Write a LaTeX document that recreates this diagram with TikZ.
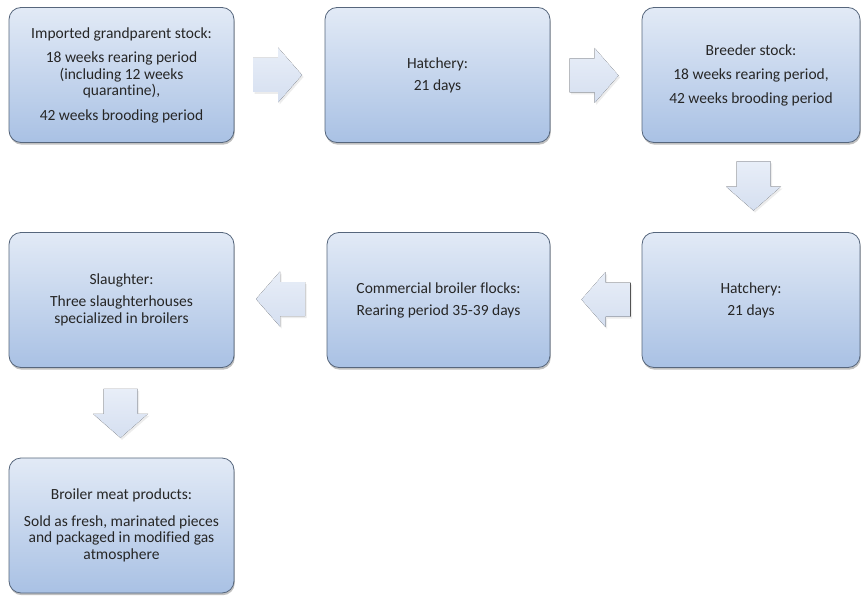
\documentclass[tikz,border=0pt]{standalone}
\usepackage{fontspec}
\setmainfont{Carlito}[Ligatures={NoCommon}]
\usetikzlibrary{shadows,calc}
\definecolor{boxtop}{HTML}{E2EAF6}
\definecolor{boxbot}{HTML}{A9C1E4}
\definecolor{boxline}{HTML}{56667C}
\definecolor{arrtop}{HTML}{E8EEF8}
\definecolor{arrbot}{HTML}{D5DFF0}
\definecolor{txt}{HTML}{262626}
\tikzset{
  stage/.style={draw=boxline, line width=0.8pt, rounded corners=12pt,
    top color=boxtop, bottom color=boxbot, align=center, text=txt,
    font=\fontsize{15.5}{16.5}\selectfont, inner sep=2pt,
    minimum height=135pt,
    drop shadow={shadow xshift=0.8pt, shadow yshift=-2.2pt, opacity=0.35, fill=black!70}},
  blockarrow/.pic={
    \fill[top color=arrtop, bottom color=arrbot,
      drop shadow={shadow xshift=1.5pt, shadow yshift=-2pt, opacity=0.15}]
      (-24.5,-17) -- (0.5,-17) -- (0.5,-27.5) -- (24.5,0) -- (0.5,27.5)
      -- (0.5,17) -- (-24.5,17) -- cycle;
  }
}
\begin{document}
\begin{tikzpicture}[x=1pt,y=-1pt]
\useasboundingbox[fill=white] (0,0) rectangle (861,596);

% stages of the production chain
\node[stage, minimum width=225pt] (gp) at (121.5,75)
  {Imported grandparent stock:\\[8pt]18 weeks rearing period\\(including 12 weeks\\quarantine),\\[8pt]42 weeks brooding period};
\node[stage, minimum width=225pt] (hatch1) at (437.5,75)
  {Hatchery:\\[5.5pt]21 days};
\node[stage, minimum width=218pt] (breeder) at (751,75)
  {Breeder stock:\\[7.5pt]18 weeks rearing period,\\[7.5pt]42 weeks brooding period};
\node[stage, minimum width=218pt] (hatch2) at (751,300)
  {Hatchery:\\[5.5pt]21 days};
\node[stage, minimum width=223pt] (flocks) at (438.5,300)
  {Commercial broiler flocks:\\[5.5pt]Rearing period 35-39 days};
\node[stage, minimum width=225pt] (slaughter) at (121.5,300)
  {Slaughter:\\[5.5pt]Three slaughterhouses\\specialized in broilers};
\node[stage, minimum width=225pt] (products) at (121.5,525.5)
  {Broiler meat products:\\[10pt]Sold as fresh, marinated pieces\\and packaged in modified gas\\atmosphere};

% block arrows halfway between consecutive stages
\pic at ($(gp.east)!0.5!(hatch1.west)+(-2,0)$) {blockarrow};
\pic at ($(hatch1.east)!0.5!(breeder.west)+(-2,0.5)$) {blockarrow};
\pic[rotate=-90] at ($(breeder.south)!0.5!(hatch2.north)+(2.5,-1.5)$) {blockarrow};
\pic[rotate=180] at ($(hatch2.west)!0.5!(flocks.east)+(10,-0.5)$) {blockarrow};
\pic[rotate=180] at ($(flocks.west)!0.5!(slaughter.east)+(0,-1)$) {blockarrow};
\pic[rotate=-90] at ($(slaughter.south)!0.5!(products.north)+(-1,0.5)$) {blockarrow};
\end{tikzpicture}
\end{document}
